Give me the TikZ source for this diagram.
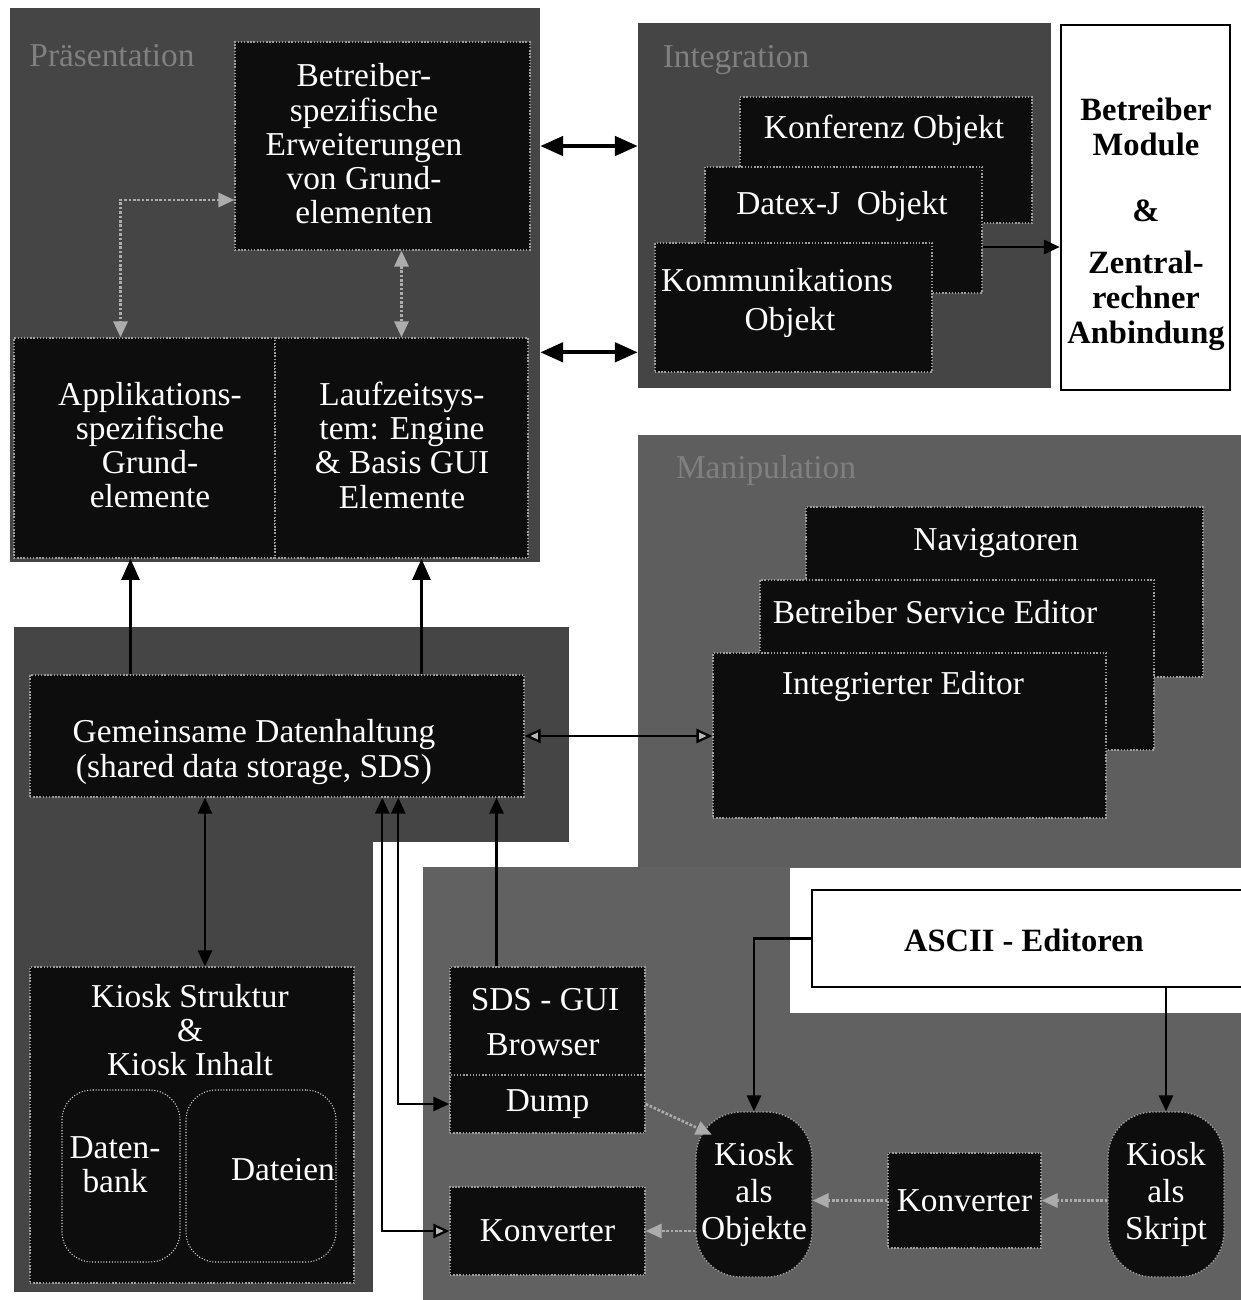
\documentclass[tikz,border=0pt]{standalone}
\usepackage{fontspec}
\setmainfont{Liberation Serif}
\usetikzlibrary{arrows.meta, fit, calc, positioning}

\definecolor{panelgray}{gray}{0.27}
\definecolor{lowgray}{gray}{0.38}
\definecolor{boxblack}{gray}{0.05}
\definecolor{edgegray}{gray}{0.62}
\definecolor{titlegray}{gray}{0.5}

\tikzset{
   panel/.style = {fill=panelgray, draw=none, inner sep=0pt},
   box/.style = {fill=boxblack, draw=edgegray, densely dotted, line width=0.8pt, inner sep=0pt},
   ghostbox/.style = {draw=gray!30, densely dotted, line width=0.6pt, inner sep=0pt, rounded corners=6mm},
   whitebox/.style = {fill=white, draw=black, line width=1.4pt, inner sep=0pt},
   txt/.style = {text=white, align=center, font=\fontsize{19}{19.5}\selectfont},
   title/.style = {text=titlegray, font=\fontsize{19}{20}\selectfont},
   btxt/.style = {text=black, align=center, font=\fontsize{18.5}{19.8}\selectfont\bfseries},
   link/.style = {draw=black, line width=1.3pt},
   biglink/.style = {draw=black, line width=2.2pt, {Triangle[length=13pt,width=11pt]}-{Triangle[length=13pt,width=11pt]}},
   uplink/.style = {draw=black, line width=2pt, -{Triangle[length=12pt,width=10pt]}},
   palelink/.style = {draw=gray!65, densely dotted, line width=1.5pt},
   tri/.tip = {Triangle[length=9pt,width=8pt]},
   paletri/.tip = {Triangle[length=9pt,width=8pt,fill=gray!55]},
}

\begin{document}
\begin{tikzpicture}[x=0.2mm, y=-0.2mm]
\useasboundingbox (0,0) rectangle (1241,1300);

% grey panels
\node[panel, fit={(10,8) (540,562)}] (praes) {};
\node[panel, fit={(638,23) (1051,388)}] (integ) {};
\node[panel, fill=lowgray!90!panelgray, fit={(638,435) (1241,870)}] (manip) {};
\node[panel, fit={(14,627) (569,842)}] (sdsout) {};
\node[panel, fit={(14,842) (373,1292)}] (kioskout) {};
\node[panel, fill=lowgray, fit={(423,867) (1241,1300)}] (lowreg) {};
\node[panel, fill=white, fit={(790,868) (1241,1013)}] (asciiout) {};

% Praesentation
\node[title] (praestitle) at (112,56) {Präsentation};
\node[box, fit={(235,42) (530,250)}] (betr) {};
\node[box, fit={(14,338) (275,558)}] (appl) {};
\node[box, fit={(275,338) (528,558)}] (lauf) {};
\node[txt] (betrtxt) at (364,144) {Betreiber-\\spezifische\\Erweiterungen\\von Grund-\\elementen};
\node[txt] (appltxt) at (150,445) {Applikations-\\spezifische\\Grund-\\elemente};
\node[txt] (lauftxt) at (402,445) {Laufzeitsys-\\tem: Engine\\\& Basis GUI\\Elemente};

% Integration
\node[title] (integtitle) at (736,60) {Integration};
\node[box, fit={(740,97) (1032,223)}] (konf) {};
\node[box, fit={(705,167) (982,293)}] (datex) {};
\node[box, fit={(655,243) (932,372)}] (komm) {};
\node[txt] (konftxt) at (884,130) {Konferenz Objekt};
\node[txt] (datextxt) at (842,206) {Datex-J\ \ Objekt};
\node[txt, anchor=west] (kommtxt) at (655,280) {Kommunikations};
\node[txt] (kommobj) at (790,322) {Objekt};

\node[whitebox, fit={(1061,25) (1230,390)}] (betrmod) {};
\node[btxt] (betrmodtxt) at (1146,224) {Betreiber\\Module\\[6.4mm]\&\\[3.4mm]Zentral-\\rechner\\Anbindung};

% Manipulation
\node[title] (maniptitle) at (766,470) {Manipulation};
\node[box, fit={(806,507) (1203,677)}] (navi) {};
\node[box, fit={(760,580) (1154,750)}] (bse) {};
\node[box, fit={(713,653) (1106,818)}] (inted) {};
\node[txt] (navitxt) at (996,543) {Navigatoren};
\node[txt] (bsetxt) at (935,612) {Betreiber Service Editor};
\node[txt] (intedtxt) at (903,687) {Integrierter Editor};

% gemeinsame Datenhaltung
\node[box, fit={(30,675) (524,797)}] (sds) {};
\node[txt] (sdstxt) at (254,752) {Gemeinsame Datenhaltung\\(shared data storage, SDS)};

% Kiosk Struktur
\node[box, fit={(30,967) (354,1283)}] (kiosk) {};
\node[ghostbox, fit={(62,1090) (180,1262)}] (dbank) {};
\node[ghostbox, fit={(186,1090) (336,1262)}] (dfiles) {};
\node[txt] (kiosktxt) at (190,1030) {Kiosk Struktur\\\&\\Kiosk Inhalt};
\node[txt] (dbanktxt) at (115,1165) {Daten-\\bank};
\node[txt] (dfilestxt) at (283,1170) {Dateien};

% SDS - GUI
\node[box, fit={(450,967) (645,1133)}] (gui) {};
\node[box, fit={(450,1075) (645,1133)}] (dump) {};
\node[box, fit={(450,1187) (645,1275)}] (konv) {};
\node[txt] (guitxt) at (545,1000) {SDS - GUI};
\node[txt] (browsertxt) at (543,1045) {Browser};
\node[txt] (dumptxt) at (dump.center) {Dump};
\node[txt] (konvtxt) at (konv.center) {Konverter};

% Kiosk als ...
\node[box, rounded corners=9mm, fit={(696,1112) (812,1277)}] (objekte) {};
\node[box, fit={(888,1153) (1041,1248)}] (konvm) {};
\node[box, rounded corners=9mm, fit={(1108,1112) (1224,1277)}] (skript) {};
\node[txt, font=\fontsize{19}{21}\selectfont] (objtxt) at (objekte.center) {Kiosk\\als\\Objekte};
\node[txt] (konvmtxt) at (konvm.center) {Konverter};
\node[txt, font=\fontsize{19}{21}\selectfont] (skripttxt) at (skript.center) {Kiosk\\als\\Skript};

\node[whitebox, fit={(812,890) (1260,987)}] (ascii) {};
\node[btxt] (asciitxt) at (1024,940) {ASCII - Editoren};

% connectors
\draw[palelink, tri-tri] ($(betr.west)+(0,54)$) -| ($(appl.north)+(-24,0)$);
\draw[palelink, tri-tri] (lauf.north |- betr.south) -- (lauf.north);

\draw[biglink] (praes.east |- betr.center) -- (integ.west |- betr.center);
\coordinate (lowpair) at ($(lauf.north)+(0,15)$);
\draw[biglink] (praes.east |- lowpair) -- (integ.west |- lowpair);
\coordinate (datexout) at ($(datex.east)+(0,17)$);
\draw[link, -tri] (datexout) -- (datexout -| betrmod.west);

\coordinate (applin) at ($(appl.south)+(-14,0)$);
\coordinate (laufin) at ($(lauf.south)+(20,0)$);
\draw[uplink] (applin |- sds.north) -- (applin);
\draw[uplink] (laufin |- sds.north) -- (laufin);

\draw[link, paletri-paletri] (sds.east) -- (sds.east -| inted.west);

\coordinate (kioskin) at ($(kiosk.north)+(13,0)$);
\draw[link, tri-tri] (kioskin |- sds.south) -- (kioskin);

\coordinate (dumpturn) at ($(dump.west)+(-51,0)$);
\coordinate (konvturn) at ($(konv.west)+(-67,0)$);
\draw[link, tri-tri] (dumpturn |- sds.south) -- (dumpturn) -- (dump.west);
\draw[link, tri-paletri] (konvturn |- sds.south) -- (konvturn) -- (konv.west);

\coordinate (guiup) at ($(gui.north)+(-51,0)$);
\draw[link, -tri] (guiup) -- (guiup |- sds.south);

\draw[link, -tri] (ascii.west) -| (objekte.north);
\draw[link, -tri] (skript.north |- ascii.south) -- (skript.north);

\draw[palelink, -tri] (dump.east) -- ($(objekte.north west)!0.14!(objekte.south east)$);
\draw[palelink, -tri] (objekte.west |- konv.east) -- (konv.east);
\draw[palelink, -tri] (konvm.west) -- (konvm.west -| objekte.east);
\draw[palelink, -tri] (konvm.east -| skript.west) -- (konvm.east);
\end{tikzpicture}
\end{document}
